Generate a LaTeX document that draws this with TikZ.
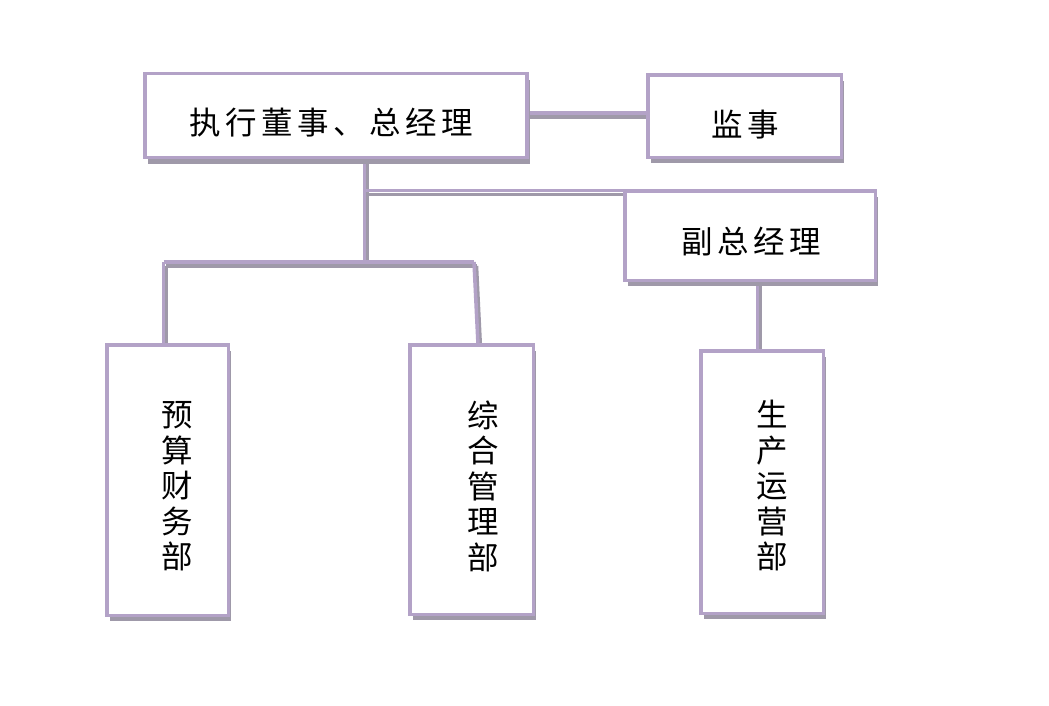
\documentclass[tikz,border=0pt]{standalone}
\usepackage{fontspec}
\newfontfamily\cjk{Noto Sans CJK SC}
\usetikzlibrary{shadows,calc}
\definecolor{lav}{HTML}{B3A2C7}
\definecolor{shd}{HTML}{9F99A9}
\newcommand\ks{\hspace{4.5pt}}
\tikzset{
  box/.style={draw=lav, line width=3.5pt, fill=white, inner sep=0pt,
    drop shadow={shadow xshift=3pt, shadow yshift=-6pt, fill=shd, opacity=1}},
  conn/.style={draw=lav, line width=3.5pt,
    preaction={draw=shd, line width=3.5pt, transform canvas={xshift=2.5pt, yshift=-4pt}}},
  txt/.style={font=\cjk\fontsize{31.5}{35.5}\selectfont, inner sep=0pt, align=center, text=black}
}
\begin{document}
\begin{tikzpicture}[x=1pt, y=-1pt]
\useasboundingbox[fill=white] (0,0) rectangle (1049,705);
% junction coordinates
\coordinate (jt) at (364.5,262);
\coordinate (bl) at (163.5,262);
\coordinate (br) at (474,262);
\coordinate (c1) at (0,113);
\coordinate (c2) at (757.5,0);
\coordinate (c3) at (478,0);
% guide nodes for connector ends
\node[minimum width=382pt, minimum height=84pt, inner sep=0pt] (topg) at (336,115.5) {};
\node[minimum width=193.5pt, minimum height=82.5pt, inner sep=0pt] (jsg) at (744.5,116) {};
\node[minimum width=250.5pt, minimum height=89.5pt, inner sep=0pt] (fzg) at (750,235.5) {};
\node[minimum width=121.5pt, minimum height=270.5pt, inner sep=0pt] (ysg) at (167.5,480) {};
\node[minimum width=123.5pt, minimum height=269.5pt, inner sep=0pt] (zhg) at (471.5,479.5) {};
\node[minimum width=122.5pt, minimum height=262.5pt, inner sep=0pt] (scg) at (762,482) {};
% connectors (drawn first, boxes on top)
\draw[conn] (topg.east |- c1) -- (jsg.west |- c1);
\draw[conn] (topg.south -| jt) -- (jt);
\draw[conn] (jt |- fzg.north west) -- (fzg.north west);
\draw[conn] (bl) -- (br);
\draw[conn] (bl) -- (ysg.north -| bl);
\draw[conn] (br) -- (zhg.north -| c3);
\draw[conn] (fzg.south -| c2) -- (scg.north -| c2);
% boxes
\node[box, minimum width=382pt, minimum height=84pt] (top) at (336,115.5) {};
\node[box, minimum width=193.5pt, minimum height=82.5pt] (js) at (744.5,116) {};
\node[box, minimum width=250.5pt, minimum height=89.5pt] (fz) at (750,235.5) {};
\node[box, minimum width=121.5pt, minimum height=270.5pt] (ys) at (167.5,480) {};
\node[box, minimum width=123.5pt, minimum height=269.5pt] (zh) at (471.5,479.5) {};
\node[box, minimum width=122.5pt, minimum height=262.5pt] (sc) at (762,482) {};
% texts
\node[txt] (topt) at (331.5,123) {执\ks 行\ks 董\ks 事\ks 、\ks 总\ks 经\ks 理};
\node[txt] (jst) at (745,125) {监\ks 事};
\node[txt] (fzt) at (751,242) {副\ks 总\ks 经\ks 理};
\node[txt] (yst) at (177,486.5) {预\\算\\财\\务\\部};
\node[txt] (zht) at (483,486) {综\\合\\管\\理\\部};
\node[txt] (sct) at (772,485.5) {生\\产\\运\\营\\部};
\end{tikzpicture}
\end{document}
